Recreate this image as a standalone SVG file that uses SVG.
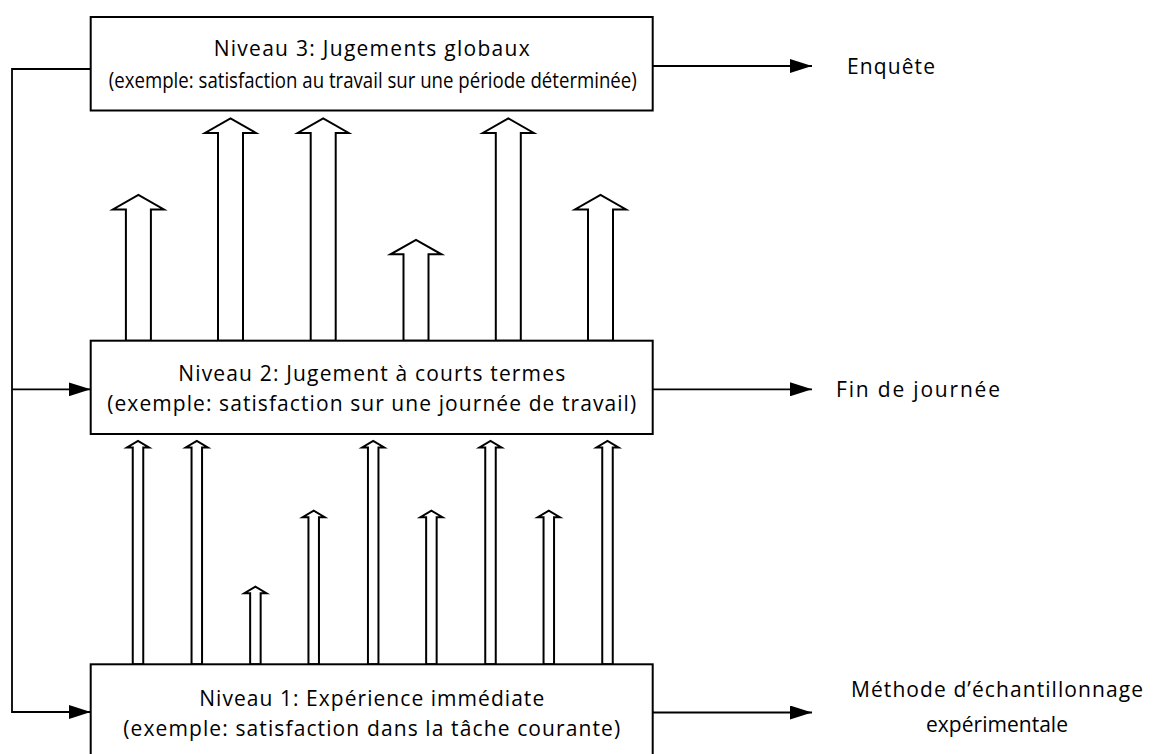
<svg xmlns="http://www.w3.org/2000/svg" width="1153" height="754" viewBox="0 0 1153 754">
<defs>
<marker id="ah" markerUnits="userSpaceOnUse" markerWidth="22" markerHeight="14" refX="22" refY="7" orient="auto">
<path d="M0,0 L22,7 L0,14 z" fill="#000"/>
</marker>
<style>
.box{fill:#fff;stroke:#000;stroke-width:2}
.blk{fill:#fff;stroke:#000;stroke-width:2;stroke-linejoin:miter}
.ln{fill:none;stroke:#000;stroke-width:1.8}
.t{font-family:"Open Sans","Noto Sans","Liberation Sans",sans-serif;font-size:21px;fill:#000}
.c{text-anchor:middle}
</style>
</defs>
<rect width="1153" height="754" fill="#fff"/>

<g id="upward-arrows-2-3">
<polygon class="blk" points="125.9,340.7 125.9,209.5 112.9,209.5 138.4,195 163.9,209.5 150.9,209.5 150.9,340.7"/>
<polygon class="blk" points="218,340.7 218,133 205,133 230.5,118.3 256,133 243,133 243,340.7"/>
<polygon class="blk" points="310.7,340.7 310.7,133 297.7,133 323.2,118.3 348.7,133 335.7,133 335.7,340.7"/>
<polygon class="blk" points="403.5,340.7 403.5,254.3 390.5,254.3 416,240 441.5,254.3 428.5,254.3 428.5,340.7"/>
<polygon class="blk" points="495.8,340.7 495.8,133 482.8,133 508.3,118.3 533.8,133 520.8,133 520.8,340.7"/>
<polygon class="blk" points="588,340.7 588,209.5 575,209.5 600.5,195 626,209.5 613,209.5 613,340.7"/>
</g>

<g id="upward-arrows-1-2">
<polygon class="blk" points="132.75,664.3 132.75,447.5 127,447.5 138,441 149,447.5 143.25,447.5 143.25,664.3"/>
<polygon class="blk" points="191.55,664.3 191.55,447.5 185.8,447.5 196.8,441 207.8,447.5 202.05,447.5 202.05,664.3"/>
<polygon class="blk" points="250.15,664.3 250.15,593.2 244.4,593.2 255.4,586.7 266.4,593.2 260.65,593.2 260.65,664.3"/>
<polygon class="blk" points="308.45,664.3 308.45,517.2 302.7,517.2 313.7,510.7 324.7,517.2 318.95,517.2 318.95,664.3"/>
<polygon class="blk" points="367.95,664.3 367.95,447.5 362.2,447.5 373.2,441 384.2,447.5 378.45,447.5 378.45,664.3"/>
<polygon class="blk" points="426.15,664.3 426.15,517.2 420.4,517.2 431.4,510.7 442.4,517.2 436.65,517.2 436.65,664.3"/>
<polygon class="blk" points="485.25,664.3 485.25,447.5 479.5,447.5 490.5,441 501.5,447.5 495.75,447.5 495.75,664.3"/>
<polygon class="blk" points="543.55,664.3 543.55,517.2 537.8,517.2 548.8,510.7 559.8,517.2 554.05,517.2 554.05,664.3"/>
<polygon class="blk" points="602.25,664.3 602.25,447.5 596.5,447.5 607.5,441 618.5,447.5 612.75,447.5 612.75,664.3"/>
</g>

<g id="connectors">
<path class="ln" d="M90.7,69 H12 V712 H90.7" marker-end="url(#ah)"/>
<path class="ln" d="M12,389.3 H90.7" marker-end="url(#ah)"/>
<path class="ln" d="M652.7,66 H812" marker-end="url(#ah)"/>
<path class="ln" d="M652.7,389.3 H812" marker-end="url(#ah)"/>
<path class="ln" d="M652.7,712.5 H812" marker-end="url(#ah)"/>
</g>

<g id="niveau3">
<rect class="box" x="90.7" y="17" width="562" height="93.5"/>
<text class="t c" x="371.7" y="56" textLength="316">Niveau 3: Jugements globaux</text>
<text class="t c" x="372.8" y="87.5" textLength="528" lengthAdjust="spacingAndGlyphs">(exemple: satisfaction au travail sur une période déterminée)</text>
</g>

<g id="niveau2">
<rect class="box" x="90.7" y="340.7" width="562" height="93.3"/>
<text class="t c" x="371.7" y="381" textLength="387">Niveau 2: Jugement à courts termes</text>
<text class="t c" x="371.7" y="410.5" textLength="529">(exemple: satisfaction sur une journée de travail)</text>
</g>

<g id="niveau1">
<rect class="box" x="90.7" y="664.3" width="562" height="100"/>
<text class="t c" x="371.7" y="705.7" textLength="345">Niveau 1: Expérience immédiate</text>
<text class="t c" x="371.7" y="735.5" textLength="497">(exemple: satisfaction dans la tâche courante)</text>
</g>

<g id="label-enquete">
<text class="t" x="847" y="73.5" textLength="88">Enquête</text>
</g>
<g id="label-fin-journee">
<text class="t" x="836" y="396.5" textLength="164">Fin de journée</text>
</g>
<g id="label-methode">
<text class="t c" x="997" y="697" textLength="292">Méthode d’échantillonnage</text>
<text class="t c" x="997" y="732" textLength="142">expérimentale</text>
</g>
</svg>
